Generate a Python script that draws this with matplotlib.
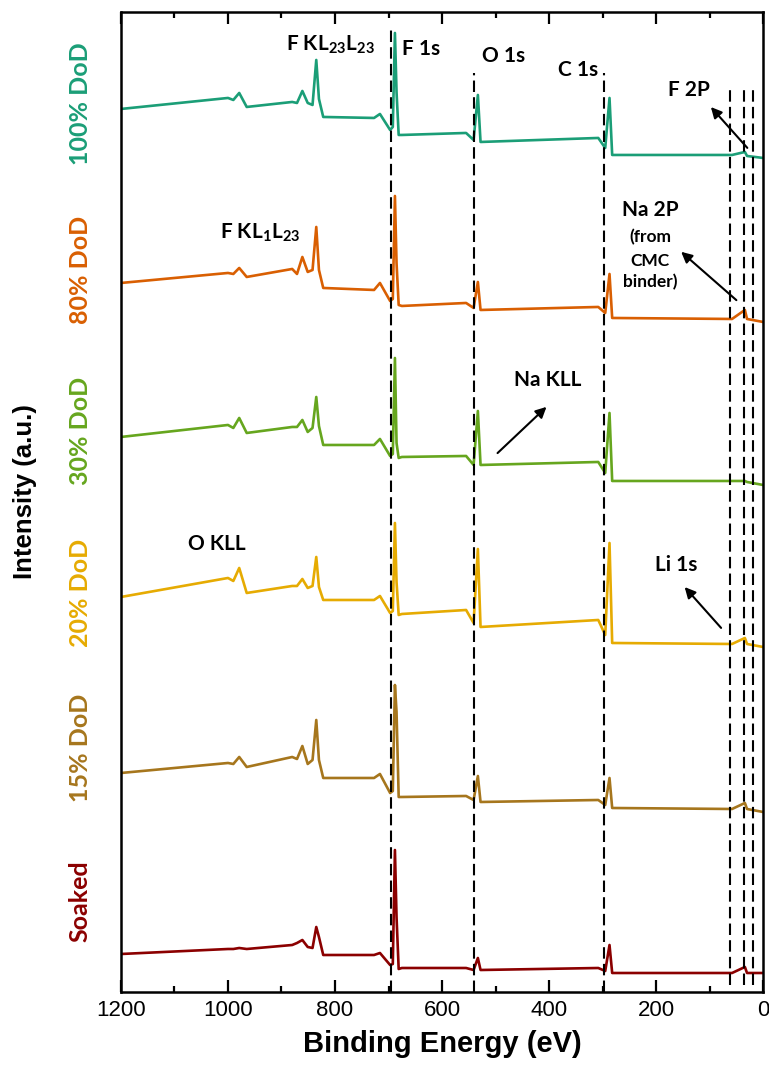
import numpy as np
import matplotlib.pyplot as plt

plt.rcParams['font.family'] = ['Liberation Sans', 'DejaVu Sans']

# binding energy keypoints (eV) shared by all spectra
energy = [1200, 1000, 990, 979, 965, 880, 871, 861, 851, 842, 835, 830, 822, 727, 716,
          697, 692, 688, 685, 681, 675, 555, 541, 533, 528, 308, 295, 287, 282, 58, 34, 30, 0]

# stacked intensities (a.u., offset included)
soaked = [38, 43, 43, 44, 43, 47, 49, 52, 45, 44, 65, 55, 37, 37, 39,
          27, 28, 142, 75, 23, 24, 24, 22, 34, 22, 24, 21, 47, 19, 19, 25, 19, 19]
dod15 = [219, 229, 228, 235, 225, 235, 233, 246, 228, 232, 272, 232, 214, 214, 218,
         199, 201, 307, 280, 195, 195, 196, 192, 216, 190, 192, 187, 214, 184, 183, 189, 183, 180]
dod20 = [395, 414, 411, 424, 399, 406, 406, 413, 404, 406, 435, 405, 392, 392, 396,
         379, 381, 469, 410, 377, 378, 382, 369, 443, 365, 372, 357, 449, 349, 348, 354, 348, 345]
dod30 = [555, 567, 564, 574, 559, 565, 565, 572, 560, 564, 595, 566, 547, 547, 553,
         536, 538, 634, 549, 534, 535, 536, 527, 581, 527, 530, 519, 579, 511, 511, 511, 510, 507]
dod80 = [709, 719, 718, 724, 715, 723, 718, 735, 720, 722, 765, 722, 704, 702, 709,
         691, 693, 796, 729, 687, 686, 689, 684, 710, 682, 685, 679, 718, 674, 673, 682, 673, 670]
dod100 = [883, 894, 892, 899, 885, 890, 889, 901, 889, 887, 932, 893, 875, 874, 878,
          862, 865, 959, 900, 857, 857, 859, 852, 897, 850, 854, 844, 894, 837, 837, 840, 836, 834]

spectra = [soaked, dod15, dod20, dod30, dod80, dod100]
names = ['Soaked', '15% DoD', '20% DoD', '30% DoD', '80% DoD', '100% DoD']
colors = ['#8b0000', '#a6761d', '#e6ab02', '#66a61e', '#d95f02', '#1b9e77']
name_y = [0.171, 0.312, 0.455, 0.604, 0.752, 0.905]  # figure fraction

# reference lines (eV) and their top (a.u.)
line_e = [694.6, 541, 297, 62, 35, 19]
line_top = [962, 919, 919, 905, 905, 905]
line_bot = [0, 0, 0, 7, 7, 7]

fig = plt.figure(figsize=(7.69, 10.87), dpi=100)
ax = fig.add_axes([0.1573, 0.0874, 0.835, 0.9016])

for y, c in zip(spectra, colors):
    ax.plot(energy, y, color=c, lw=1.9, solid_joinstyle='round')

ax.vlines(line_e, line_bot, line_top, colors='black', linestyles=(0, (5.5, 2.5)), lw=1.5)

ax.set_xlim(1200, 0)
ax.set_ylim(0, 980)
ax.set_yticks([])
ax.set_xticks(np.arange(0, 1201, 200))
ax.set_xticks(np.arange(100, 1200, 200), minor=True)
ax.tick_params(axis='x', which='both', direction='in', top=True, width=1.6, labelsize=16, pad=6)
ax.tick_params(axis='x', which='major', length=8.5)
ax.tick_params(axis='x', which='minor', length=4.5)
for s in ax.spines.values():
    s.set_linewidth(1.8)

ax.set_xlabel('Binding Energy (eV)', fontsize=21, fontweight='bold', labelpad=6)
fig.text(0.032, 1 - 492 / 1087, 'Intensity (a.u.)', rotation=90, fontsize=18.5,
         fontweight='bold', ha='center', va='center')

for n, c, yy in zip(names, colors, name_y):
    fig.text(80 / 769, yy, n, rotation=90, color=c, fontsize=18, fontweight='bold',
             family=['Lato', 'DejaVu Sans'], ha='center', va='center')

lab = dict(fontsize=15, fontweight='bold', family=['Lato', 'DejaVu Sans'], ha='center', va='center')
small = dict(fontsize=12.5, fontweight='bold', family=['Lato', 'DejaVu Sans'], ha='center', va='center')
ax.text(809, 947, r'F KL$\mathregular{_{23}}$L$\mathregular{_{23}}$', **lab)
ax.text(640, 943, 'F 1s', **lab)
ax.text(485, 936, 'O 1s', **lab)
ax.text(346, 922, 'C 1s', **lab)
ax.text(139, 902, 'F 2P', **lab)
ax.text(210, 782, 'Na 2P', **lab)
ax.text(211, 755, '(from', **small)
ax.text(211, 731, 'CMC', **small)
ax.text(211, 710, 'binder)', **small)
ax.text(940, 759, r'F KL$\mathregular{_{1}}$L$\mathregular{_{23}}$', **lab)
ax.text(403, 612, 'Na KLL', **lab)
ax.text(1020, 448, 'O KLL', **lab)
ax.text(163, 427, 'Li 1s', **lab)

arrow = dict(arrowstyle='-|>', color='black', lw=1.5, mutation_scale=16)
ax.annotate('', xy=(101, 887), xytext=(26, 842), arrowprops=arrow)
ax.annotate('', xy=(157, 742), xytext=(46, 690), arrowprops=arrow)
ax.annotate('', xy=(401, 587), xytext=(500, 537), arrowprops=arrow)
ax.annotate('', xy=(150, 407), xytext=(75, 362), arrowprops=arrow)

fig.savefig('out.png', dpi=100)
